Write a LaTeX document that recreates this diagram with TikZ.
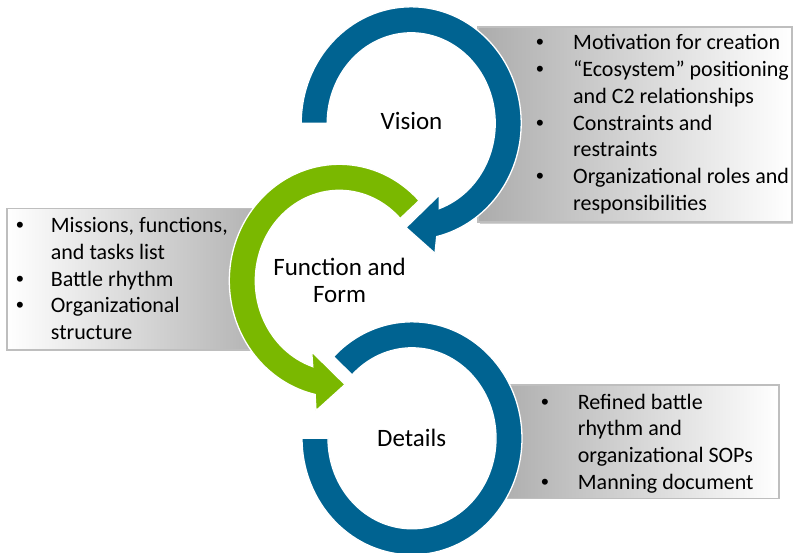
\documentclass[tikz,border=0pt]{standalone}
\usepackage{fontspec}
\setmainfont{Carlito}
\newfontfamily\bulletfont{Liberation Sans}
\usetikzlibrary{calc}
\definecolor{ringblue}{RGB}{0,99,145}
\definecolor{ringgreen}{RGB}{122,184,0}
\definecolor{boxgray}{RGB}{172,172,172}
\definecolor{boxedge}{RGB}{190,190,190}
\tikzset{
  infobox/.style={draw=boxedge, line width=1.2pt},
  boxshadow/.style={fill=black!18},
  ringpart/.style={draw=white, line width=1.3pt},
  ringbg/.style={fill=white},
  label/.style={font=\fontsize{22}{26.7}\selectfont, inner sep=0pt, text=black},
  title/.style={font=\fontsize{25}{27}\selectfont, inner sep=0pt, text=black},
}
\newcommand{\bulw}[1]{\makebox[#1][l]{\bulletfont •}}
\begin{document}
\begin{tikzpicture}[x=1pt,y=1pt]
\useasboundingbox (0,0) rectangle (793,552);
% centres of the three rings
\coordinate (cV) at (411.2,428.7);
\coordinate (cF) at (339.3,271.2);
\coordinate (cD) at (412,113.7);
% text boxes
\fill[boxshadow] (480,327.5) rectangle (793.5,328.5);
\shade[left color=boxgray, right color=white] (478,525) rectangle (792,330);
\draw[infobox] (478,525) rectangle (792,330);
\shade[left color=white, right color=boxgray] (7,343.7) rectangle (280,202);
\draw[infobox] (7,343.7) rectangle (280,202);
\shade[left color=boxgray, right color=white] (495,167) rectangle (779,53.7);
\draw[infobox] (495,167) rectangle (779,53.7);
% white discs
\fill[ringbg] (cV) ellipse[x radius=110pt, y radius=116.5pt];
\fill[ringbg] (cF) ellipse[x radius=110pt, y radius=116.5pt];
\fill[ringbg] (cD) ellipse[x radius=110pt, y radius=116.5pt];
% top blue ring with arrow
\path[ringpart, fill=ringblue]
  ($(cV)+(180:110pt and 116.5pt)$)
  arc[start angle=180, end angle=-76.6, x radius=110pt, y radius=116.5pt]
  -- (435,298.7) -- (406,324.5) -- (439.3,357)
  -- ($(cV)+(-70.5:84pt and 90.5pt)$)
  arc[start angle=-70.5, end angle=180, x radius=84pt, y radius=90.5pt]
  -- cycle;
% green ring with arrow
\path[ringpart, fill=ringgreen]
  ($(cF)+(43.5:110pt and 116.5pt)$)
  arc[start angle=43.5, end angle=257.3, x radius=110pt, y radius=116.5pt]
  -- (316,141.3) -- (345,167.5) -- (311.7,200.3)
  -- ($(cF)+(251.6:84pt and 90.5pt)$)
  arc[start angle=251.6, end angle=43.5, x radius=84pt, y radius=90.5pt]
  -- cycle;
% bottom blue ring
\path[ringpart, fill=ringblue]
  ($(cD)+(135.5:110pt and 116.5pt)$)
  arc[start angle=135.5, end angle=-180, x radius=110pt, y radius=116.5pt]
  -- ($(cD)+(-180:84pt and 90.5pt)$)
  arc[start angle=-180, end angle=135.5, x radius=84pt, y radius=90.5pt]
  -- cycle;
% ring titles
\node[title, anchor=base] (vision) at (411.5,422) {Vision};
\node[title, anchor=base] (function) at (339.6,276) {\begin{tabular}[t]{@{}c@{}}Function and\\Form\end{tabular}};
\node[title, anchor=base] (details) at (411.7,105.3) {Details};
% box texts
\node[label, anchor=base west] (visionlist) at (536,502) {\begin{tabular}[t]{@{}l@{}l@{}}
\bulw{37pt} & Motivation for creation\\
\bulw{37pt} & “Ecosystem” positioning\\
 & and C2 relationships\\
\bulw{37pt} & Constraints and\\
 & restraints\\
\bulw{37pt} & Organizational roles and\\
 & responsibilities
\end{tabular}};
\node[label, anchor=base west] (functionlist) at (16,319.3) {\begin{tabular}[t]{@{}l@{}l@{}}
\bulw{34.7pt} & Missions, functions,\\
 & and tasks list\\
\bulw{34.7pt} & Battle rhythm\\
\bulw{34.7pt} & Organizational\\
 & structure
\end{tabular}};
\node[label, anchor=base west] (detailslist) at (541,142.7) {\begin{tabular}[t]{@{}l@{}l@{}}
\bulw{36.7pt} & Refined battle\\
 & rhythm and\\
 & organizational SOPs\\
\bulw{36.7pt} & Manning document
\end{tabular}};
\end{tikzpicture}
\end{document}
